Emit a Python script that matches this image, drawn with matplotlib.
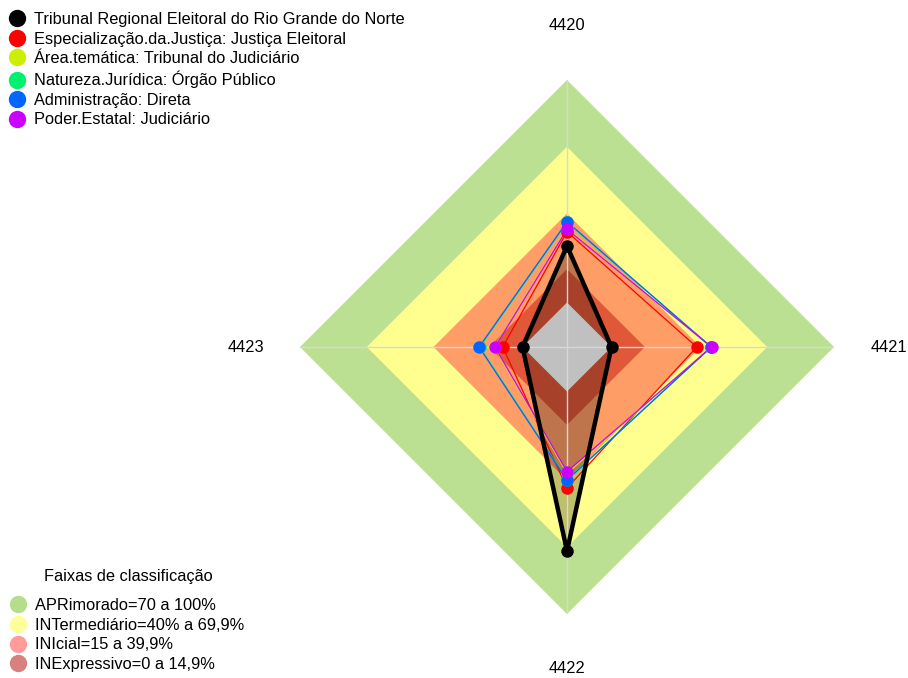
import numpy as np
import matplotlib
matplotlib.use("Agg")
import matplotlib.pyplot as plt
from matplotlib.lines import Line2D

plt.rcParams["font.family"] = ["Liberation Sans", "DejaVu Sans"]
plt.rcParams["font.size"] = 11.8

# indicator axes, clockwise from the top
categories = ["4420", "4421", "4422", "4423"]

# series scores (%) per indicator
series_names = [
    "Tribunal Regional Eleitoral do Rio Grande do Norte",
    "Especialização.da.Justiça: Justiça Eleitoral",
    "Área.temática: Tribunal do Judiciário",
    "Natureza.Jurídica: Órgão Público",
    "Administração: Direta",
    "Poder.Estatal: Judiciário",
]
tribunal = [25.4, 0.0, 71.7, 0.0]
especializacao = [31.8, 38.3, 43.4, 8.9]
area_tematica = [33.3, 44.6, 36.8, 12.6]
natureza = [36.0, 44.8, 39.6, 19.2]
administracao = [36.3, 44.8, 39.9, 19.5]
poder = [32.9, 45.0, 36.0, 12.4]
series_colors = ["black", "#ff0000", "#ccee00", "#00f070", "#0066ff", "#cc00ff"]

# classification bands (upper limit of each band)
band_title = "Faixas de classificação"
band_labels = ["APRimorado=70 a 100%", "INTermediário=40% a 69,9%",
               "INIcial=15 a 39,9%", "INExpressivo=0 a 14,9%"]
band_limits = [100, 70, 40, 15]
band_fill = ["#bbe091", "#ffff90", "#ff9d66", "#e05838"]
band_legend = ["#b5de8c", "#ffff99", "#ff9b9b", "#d88080"]

theta = np.arange(len(categories)) * 2 * np.pi / len(categories)
theta_c = np.append(theta, theta[0])


def closed(vals):
    return np.append(vals, vals[0])


fig = plt.figure(figsize=(9.08, 6.78), dpi=100)
ax = fig.add_axes([300 / 908, 64 / 678, 534 / 908, 534 / 678], projection="polar")
ax.set_theta_offset(np.pi / 2)
ax.set_theta_direction(-1)
ax.set_ylim(-20, 100)
ax.set_axis_off()

for lim, col in zip(band_limits, band_fill):
    ax.fill(theta_c, [lim] * 5, color=col, lw=0, zorder=1)

# translucent fill of the main series, then the inner core on top
ax.fill(theta_c, closed(tribunal), color="black", alpha=0.25, lw=0, zorder=2)
ax.fill(theta_c, [0] * 5, color="#c0c0c0", lw=0, zorder=3)

for t in theta:
    ax.plot([t, t], [-20, 100], color="#d8d8d8", lw=1, zorder=4)

others = [especializacao, area_tematica, natureza, administracao, poder]
for vals, col in zip(others, series_colors[1:]):
    ax.plot(theta_c, closed(vals), color=col, lw=0.9, zorder=5)
    ax.plot(theta, vals, "o", color=col, ms=9, mec="none", zorder=6)

ax.plot(theta_c, closed(tribunal), color="black", lw=3.2, zorder=7)
ax.plot(theta, tribunal, "o", color="black", ms=9, mec="none", zorder=8)

for t, lab in zip(theta, categories):
    ax.text(t, 124.5, lab, ha="center", va="center", clip_on=False)

handles = [Line2D([], [], ls="none", marker="o", ms=12.5, color=c, mec="none")
           for c in series_colors]
fig.legend(handles, series_names, loc="upper left",
           bbox_to_anchor=(10 / 908, 1 - 12 / 678),
           frameon=False, handlelength=0.9, handletextpad=0.55,
           labelspacing=0.28, borderaxespad=0.0, borderpad=0.0)

band_handles = [Line2D([], [], ls="none", marker="o", ms=12.5, color=c, mec="none")
                for c in band_legend]
fig.legend(band_handles, band_labels,
           loc="lower left", bbox_to_anchor=(11 / 908, 6 / 678),
           frameon=False, handlelength=0.9, handletextpad=0.55,
           labelspacing=0.28, borderaxespad=0.0, borderpad=0.0)
fig.text(128 / 908, 1 - 577 / 678, band_title, ha="center", va="center")

fig.savefig("out.png", dpi=100)
